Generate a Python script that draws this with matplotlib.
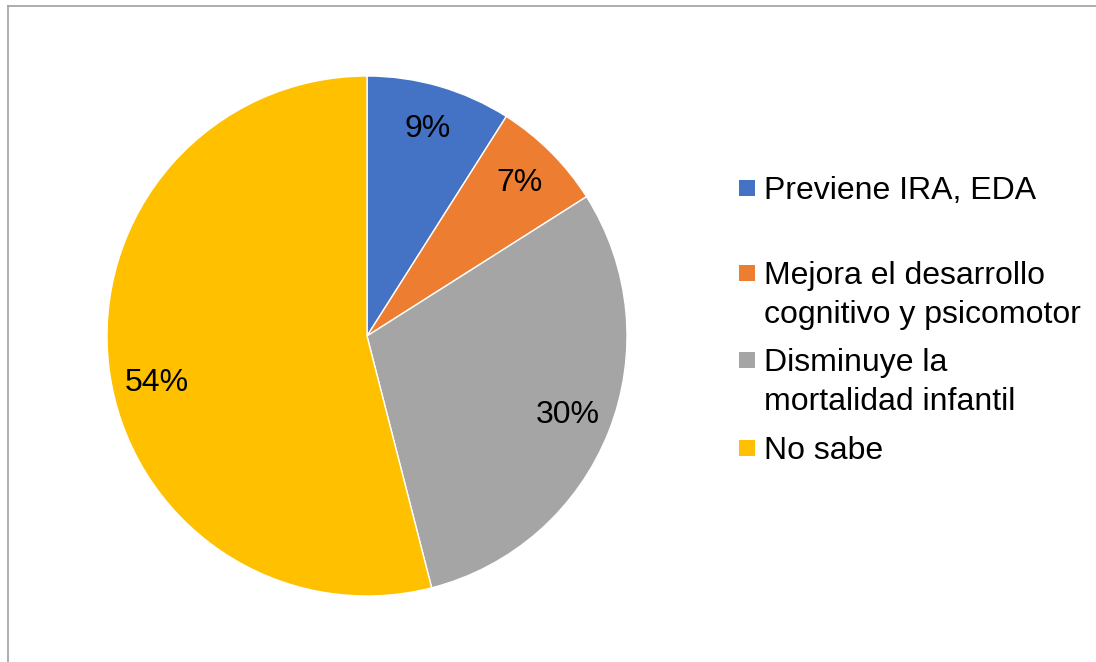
import matplotlib.pyplot as plt
import matplotlib.transforms as mtransforms
from matplotlib.patches import Rectangle
from matplotlib.lines import Line2D

categories = ["Previene IRA, EDA",
              "Mejora el desarrollo\ncognitivo y psicomotor",
              "Disminuye la\nmortalidad infantil",
              "No sabe"]
values = [9, 7, 30, 54]
colors = ["#4472C4", "#ED7D31", "#A5A5A5", "#FFC000"]

plt.rcParams['font.family'] = ['Liberation Sans', 'DejaVu Sans']

W, H = 1096, 662
fig = plt.figure(figsize=(W / 100, H / 100), dpi=100)

# outer chart border (only top and left are visible in the frame)
fig.add_artist(Line2D([8 / W, 8 / W], [0, 1 - 6 / H], color="#A0A0A0", lw=1.2))
fig.add_artist(Line2D([8 / W, 1], [1 - 6 / H, 1 - 6 / H], color="#A0A0A0", lw=1.2))

cx, cy, r = 367, 336, 260
ax = fig.add_axes([(cx - r) / W, (H - cy - r) / H, 2 * r / W, 2 * r / H])
wedges, texts, autotexts = ax.pie(values, colors=colors, startangle=90, counterclock=False,
                                  autopct=lambda p: f"{p:.0f}%", pctdistance=0.83,
                                  wedgeprops=dict(edgecolor="white", linewidth=1),
                                  textprops=dict(fontsize=23, color="black"))
ax.set_xlim(-1, 1)
ax.set_ylim(-1, 1)
ax.set_aspect("equal")

# Excel puts the big slice's label a bit lower ("best fit")
autotexts[3].set_transform(ax.transData + mtransforms.ScaledTranslation(4 / 100, -20 / 100, fig.dpi_scale_trans))

# legend drawn by hand to keep Excel's uneven spacing; marker sits on first line
legend_top = [188, 273, 360, 448]
for lab, col, y in zip(categories, colors, legend_top):
    fig.add_artist(Rectangle((739 / W, 1 - (y + 8) / H), 16 / W, 16 / H,
                             transform=fig.transFigure, facecolor=col, edgecolor="none"))
    fig.text(764 / W, 1 - (y - 12) / H, lab, fontsize=23, va="top", ha="left",
             linespacing=1.37)

fig.savefig("out.png", dpi=100)
